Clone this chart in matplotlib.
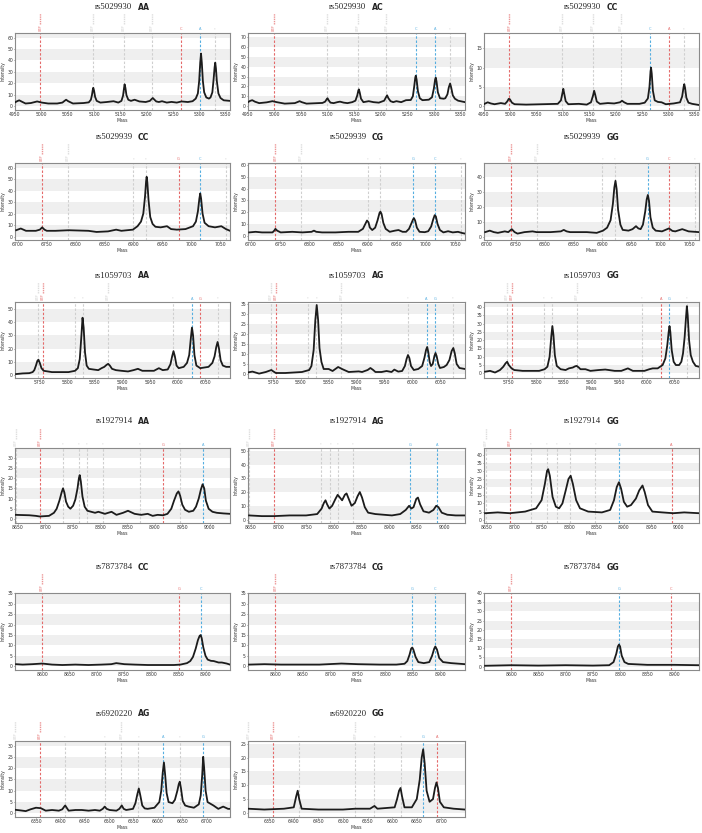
import matplotlib
matplotlib.use("Agg")
import matplotlib.pyplot as plt

W, H = 702, 833

# ---------------- data ----------------
rs_ids = ["rs5029930", "rs5029930", "rs5029930",
          "rs5029939", "rs5029939", "rs5029939",
          "rs1059703", "rs1059703", "rs1059703",
          "rs1927914", "rs1927914", "rs1927914",
          "rs7873784", "rs7873784", "rs7873784",
          "rs6920220", "rs6920220"]
genotypes = ["AA", "AC", "CC", "CC", "CG", "GG", "AA", "AG", "GG",
             "AA", "AG", "GG", "CC", "CG", "GG", "AG", "GG"]

spec1 = [(4950,3.2),(4954,4.2),(4958,5.0),(4963,3.8),(4970,2.2),(4980,2.6),(4992,4.0),(5001,3.0),(5013,2.2),(5030,2.2),(5040,3.0),(5044,4.5),(5047,5.5),(5051,4.2),(5060,2.2),(5080,2.6),(5090,3.2),(5094,5.5),(5096,9.5),(5097.5,14.0),(5098.5,16.0),(5100,13.5),(5102,8),(5105,4.5),(5112,3.0),(5124,3.5),(5137,4.2),(5146,3.0),(5152,4.5),(5155,9),(5157,16),(5158,19),(5159.5,16),(5161.5,9.5),(5165,5.5),(5170,4.5),(5177,5.5),(5186,4.0),(5198,3.5),(5206,4.5),(5209.5,6.2),(5211.5,7.0),(5214,5.8),(5218,4.0),(5223,3.5),(5229,4.2),(5238,3.0),(5247,3.6),(5257,3.0),(5266,4.0),(5278,3.5),(5287,4.2),(5293,6.5),(5297,11),(5299.5,22),(5301.5,38),(5303,46),(5304.5,38),(5306.5,22),(5309,12),(5313,7.5),(5318,6.5),(5321,7.5),(5324.5,12),(5327,24),(5328.8,34),(5330,38),(5331.3,33),(5333,22),(5336,11),(5340,7),(5346,5),(5358,4.5)]
spec2 = [(4950,4.0),(4954,5.3),(4958,6.0),(4963,4.5),(4971,3.0),(4985,3.8),(4996,5.0),(5004,4.0),(5019,2.5),(5038,3.0),(5044,4.3),(5047,5.0),(5051,4.0),(5060,2.5),(5090,3.2),(5095,4.5),(5098,7),(5099.5,8),(5101.5,6),(5105,3.5),(5111,3.0),(5118,4),(5123,4.5),(5130,3.5),(5137,3.0),(5146,4.0),(5152,5.5),(5155.5,11),(5157.5,16),(5158.5,17),(5160,14),(5162.5,7.5),(5167,4.0),(5177,5.0),(5186,4.0),(5196,3.5),(5206,5.5),(5209.5,9),(5211.5,11),(5214,8),(5218,5),(5223,4.0),(5229,5.0),(5238,4.0),(5247,6.0),(5256,6.2),(5260,10),(5262.5,20),(5264.5,29),(5265.5,31),(5267,27),(5269.5,15),(5273,8),(5278,6),(5290,6.5),(5296,9),(5299.5,18),(5301.8,27),(5303,29),(5304.5,25),(5307,14),(5311,8),(5318,7.5),(5321,8),(5325,12),(5327.5,19),(5330,23),(5332,19),(5335,11),(5339,7.5),(5345,5.5),(5358,4.0)]
spec3 = [(4951,0.6),(4957,1.0),(4963,0.7),(4970,0.5),(4982,0.8),(4990,0.6),(4994,1.2),(4997,1.9),(4999,1.8),(5003,0.9),(5008,0.5),(5030,0.4),(5060,0.5),(5090,0.6),(5096,1.5),(5099,3.5),(5100.5,4.5),(5102,3.4),(5105,1.3),(5110,0.5),(5130,0.6),(5145,0.4),(5153,1.0),(5157,2.8),(5159,4.0),(5161,3.0),(5164,1.2),(5170,0.6),(5185,0.8),(5197,0.7),(5208,1.0),(5212,1.4),(5216,1.0),(5222,0.6),(5245,0.6),(5255,0.9),(5261,2.0),(5264,5),(5266,9),(5267,10),(5268.3,8.5),(5270.5,4.0),(5274,1.5),(5280,1.1),(5287,1.0),(5295,0.5),(5310,0.7),(5322,1.0),(5326,2.5),(5328.8,5.0),(5330,5.7),(5331.5,4.8),(5334,2.2),(5338,0.9),(5345,0.6),(5358,0.3)]
spec4 = [(6697,5.5),(6705,7.0),(6714,5.0),(6731,5.0),(6738,6.0),(6742,8.0),(6746,6.0),(6750,5.0),(6765,5.0),(6788,5.5),(6822,5.0),(6836,4.0),(6856,4.5),(6870,6.0),(6879,5.0),(6899,6.0),(6907,9),(6913,13),(6917,20),(6920,35),(6921.8,48),(6922.8,52),(6924,47),(6926,32),(6929,17),(6933,11),(6938,8.5),(6947,8.0),(6958,9.0),(6965,6.5),(6975,6.0),(6990,6.5),(7003,9),(7008,13),(7011.5,22),(7014,33),(7015.5,37.5),(7017,33),(7019.5,20),(7023,12),(7030,9),(7041,8.0),(7052,9.0),(7060,6.5),(7067,5.0)]
spec5 = [(6697,3.0),(6708,3.5),(6719,3.0),(6737,3.0),(6740,4.5),(6742,6.0),(6745,4.5),(6751,3.0),(6771,3.5),(6788,3.0),(6804,3.5),(6808,4.5),(6812,3.5),(6822,3.0),(6845,3.0),(6867,3.5),(6884,3.5),(6892,6),(6896,10),(6899,13),(6901.5,11.5),(6904,7),(6908,5),(6913,7),(6917,13),(6920.5,19.5),(6922,20.5),(6924,18.5),(6927,11),(6931,6),(6938,3.5),(6947,4.5),(6953,5.0),(6960,3.5),(6966,3.5),(6971,6),(6975,10.5),(6978,14),(6979.5,15),(6981.5,13),(6984.5,7),(6989,3.5),(6998,3.2),(7004,4.0),(7009,8),(7012.5,14),(7015,17.5),(7017,16.5),(7020,10),(7024,5),(7030,3.0),(7038,4.0),(7046,3.0),(7055,3.5),(7062,2.5),(7067,2.0)]
spec6 = [(6697,3.0),(6705,4.0),(6712,3.0),(6719,2.5),(6731,3.5),(6737,3.0),(6743,5.0),(6748,3.0),(6753,2.0),(6765,3.0),(6779,3.5),(6786,3.0),(6810,3.0),(6828,3.5),(6833,4.5),(6838,3.5),(6844,3.0),(6873,3.0),(6890,2.5),(6901,4.0),(6908,6),(6914,11),(6918,22),(6920.5,33),(6922.5,37.5),(6924.5,32),(6927,18),(6931,8),(6935,4.5),(6945,4.0),(6952,5.0),(6958,7.0),(6962,5.5),(6966,5.0),(6970,8),(6974,17),(6976.5,25),(6978.5,28),(6980.5,24),(6983,13),(6987,6),(6992,4.0),(7003,3.5),(7015,5.5),(7021,3.8),(7026,3.5),(7038,5.0),(7049,3.5),(7067,3.0)]
spec7 = [(5707,0.5),(5719,1.0),(5731,1.2),(5737,2),(5740,3.5),(5743,7),(5745.5,10.5),(5747.5,11.5),(5750,9),(5753,5),(5757,3.0),(5772,2.0),(5802,2.0),(5814,3.0),(5819,5),(5822.5,12),(5825.5,30),(5827.5,43.5),(5829.5,36),(5832,17),(5835,7),(5839,4.5),(5847,4.0),(5856,3.5),(5862,5.0),(5867,6),(5871,7.5),(5874,8.3),(5877,7),(5881,4.5),(5888,3.5),(5898,3.0),(5910,2.5),(5920,3.5),(5928,4.5),(5936,3.0),(5957,3.0),(5966,5.0),(5973,3.5),(5982,4),(5987,8),(5990,14),(5992.5,18),(5995,14),(5998,7),(6002,5),(6011,6),(6017,9),(6021,15),(6024,28),(6026,36),(6028,30),(6030.5,15),(6034,7),(6041,5.0),(6056,6.0),(6063,9),(6067,14),(6070,21),(6072.5,25),(6075,20),(6078,11),(6082,7),(6088,6),(6095,6)]
spec8 = [(5705,0.8),(5713,1.2),(5725,0.2),(5737,1.0),(5744,1.7),(5747,2.0),(5751,1.2),(5755,0.5),(5772,0.5),(5802,1.0),(5815,2.0),(5819,4),(5823,12),(5826,27),(5828.5,34.5),(5831,27),(5833.5,13),(5837,6),(5841,2.5),(5850,2.5),(5857,1.5),(5867,3.5),(5874,2.5),(5886,1.0),(5904,1.3),(5910,1.0),(5920,2.0),(5925,3.0),(5930,2.0),(5934,1.0),(5945,1.0),(5954,1.5),(5963,1.0),(5968,2.2),(5975,1.2),(5982,1.5),(5987,4),(5990,7.5),(5992.5,9.5),(5995,8),(5998,4),(6003,2.0),(6011,2.5),(6018,4),(6022,8),(6025,12),(6027,13.5),(6029,11),(6031.5,6),(6034,4.0),(6037,5),(6040,9),(6042,10.5),(6044,9),(6047,5),(6050,3.0),(6057,3.5),(6062,4.5),(6067,7),(6071,11.5),(6074,13),(6076.5,10.5),(6080,5),(6085,3.0),(6095,2.5)]
spec9 = [(5707,1.0),(5716,1.5),(5725,0.5),(5734,2.0),(5740,4.0),(5744,6),(5747,7.0),(5750,5),(5755,3.0),(5760,2.0),(5775,1.5),(5805,1.5),(5815,2.5),(5820,4),(5824,10),(5827,22),(5829,28.5),(5831,23),(5833.5,11),(5837,4.5),(5844,2.5),(5853,2.0),(5859,3.0),(5866,3.5),(5870,4.2),(5873,4.5),(5877,3.5),(5880,2.5),(5889,2.5),(5898,1.5),(5913,2.0),(5925,2.3),(5942,1.5),(5954,1.5),(5962,2.5),(5966,3.0),(5975,1.5),(5996,1.5),(6005,2.5),(6011,3.0),(6020,3.0),(6029,5),(6034,9),(6037.5,17),(6040,25),(6041.5,28.5),(6043,25),(6045.5,14),(6049,7),(6053,5),(6059,5),(6063,7),(6066,12),(6069,22),(6071.5,34),(6073,40.5),(6074.5,35),(6077,20),(6080,11),(6084,7),(6089,4.5),(6095,4)]
spec10 = [(8645,2.0),(8671,1.8),(8683,1.5),(8690,1.2),(8707,1.5),(8716,3),(8721,5),(8726,9),(8730,13),(8732.5,15),(8735,13),(8738,8.5),(8742,6),(8746,5.0),(8751,6.5),(8755,9.5),(8759,15),(8761.5,20),(8763,21.5),(8765,18.5),(8768,11),(8772,6),(8777,4.0),(8791,3.0),(8797,3.5),(8809,2.5),(8821,3.5),(8830,2.0),(8842,3.0),(8851,4.0),(8863,2.5),(8875,2.0),(8887,2.5),(8896,1.5),(8905,2.0),(8915,1.8),(8923,2.5),(8930,5),(8935,9),(8940,12.5),(8943,13.5),(8946,11.5),(8950,7),(8955,4.5),(8962,3.5),(8970,4),(8975,6),(8980,10),(8984,14.5),(8987,17),(8990,15),(8993,9),(8998,5),(9005,3.5),(9013,3.0),(9025,2.7),(9037,2.5)]
spec11 = [(8647,3),(8670,2.5),(8692,2.5),(8720,3),(8750,3),(8770,4),(8778,8),(8782,12),(8785,14),(8788,11),(8792,8),(8797,10),(8803,15),(8807,18),(8811,16),(8815,14),(8820,18),(8823,19),(8827,15),(8832,10),(8838,12),(8843,17),(8847,20),(8851,16),(8856,9),(8862,5),(8875,4),(8890,3.5),(8905,3),(8920,4),(8930,7),(8936,10),(8940,8),(8944,9),(8949,15),(8952,16),(8956,11),(8962,6),(8972,5),(8980,7),(8985,10),(8989,9),(8995,5),(9005,3.5),(9020,3),(9037,3)]
spec12 = [(8647,4),(8670,4.5),(8692,4),(8720,5),(8740,7),(8750,12),(8756,22),(8760,30),(8762,31),(8765,27),(8770,14),(8776,8),(8782,7),(8788,10),(8794,18),(8799,25),(8803,27),(8807,22),(8813,12),(8820,7),(8835,5),(8860,4.5),(8875,6),(8882,12),(8887,20),(8891,23),(8895,19),(8900,11),(8906,8),(8913,9),(8922,13),(8928,18),(8934,21),(8938,17),(8944,9),(8952,5),(8970,4.5),(8990,4),(9010,4.5),(9037,4)]
spec13 = [(8552,1.0),(8564,0.8),(8582,1.0),(8600,1.3),(8618,0.8),(8637,0.6),(8661,0.8),(8685,0.6),(8709,0.8),(8727,1.0),(8736,1.5),(8751,1.0),(8770,0.8),(8794,0.6),(8818,0.6),(8842,0.6),(8854,0.8),(8866,1.5),(8872,2.5),(8877,4.5),(8882,8.5),(8886,12.5),(8889,14.5),(8891,15),(8893,13.5),(8896,9),(8900,5),(8904,3.2),(8910,2.6),(8915,2.5),(8924,1.8),(8930,1.8),(8939,1.3),(8945,0.8)]
spec14 = [(8552,0.8),(8580,1.0),(8610,0.8),(8640,0.8),(8680,0.8),(8720,1.3),(8750,1.0),(8790,0.8),(8820,0.8),(8835,1.2),(8840,2.5),(8844,5.5),(8847,8.5),(8849,9),(8851,8),(8855,4.5),(8860,2.0),(8870,1.5),(8880,2.0),(8885,5),(8889,8.5),(8891,9.5),(8894,8),(8898,4),(8905,2),(8920,1.5),(8945,1.0)]
spec15 = [(8552,0.5),(8600,0.8),(8650,0.6),(8700,0.8),(8750,0.6),(8780,0.8),(8788,2.5),(8793,7),(8796,11),(8798,12),(8800,11),(8803,6),(8808,2.5),(8815,1.5),(8850,1.0),(8900,1.0),(8945,0.8)]
spec16 = [(6307,1.6),(6319,1.3),(6329,1.0),(6339,1.8),(6350,2.5),(6360,2.3),(6370,1.2),(6383,1.5),(6397,1.2),(6404,1.8),(6408,3.0),(6410,3.5),(6413,2.5),(6417,1.2),(6431,1.5),(6444,1.5),(6458,1.2),(6471,1.5),(6481,1.2),(6487,2.0),(6491,3.0),(6495,2.0),(6501,1.5),(6515,1.2),(6521,2.0),(6526,3.5),(6530,2.0),(6535,1.5),(6549,2.0),(6554,4.5),(6558,8.5),(6561,11),(6564,8),(6568,3.5),(6573,2.2),(6579,2.0),(6593,2.5),(6603,5.0),(6607,10),(6610,18),(6612.5,22.5),(6615,17),(6618,9),(6622,5.0),(6630,4.5),(6635,6.0),(6640,10),(6643,13),(6645,14),(6647.5,11),(6651,5.5),(6656,3.5),(6663,3.0),(6674,2.5),(6684,4),(6688,8),(6691,17),(6693,25),(6695,20),(6698,10),(6702,5.0),(6714,3.5),(6724,2.0),(6734,3.0),(6744,2.0),(6748,2.0)]
spec17 = [(6307,1.5),(6340,1.2),(6380,1.5),(6400,2),(6405,6),(6408,8),(6411,5),(6416,1.5),(6450,1.2),(6500,1.2),(6525,1.5),(6555,1.5),(6564,2.5),(6570,1.5),(6605,2),(6610,5),(6614,8),(6617,9),(6620,6),(6625,2),(6640,2),(6650,5),(6656,12),(6660,20),(6663,23),(6666,18),(6670,8),(6676,4),(6683,5),(6687,9),(6690,11),(6693,9),(6697,4),(6705,2),(6725,1.5),(6748,1.2)]

# marker peaks: mass, colour code (r = red, b = blue, g = grey), label
mk1 = [(4998,"r","UEP"),(5098,"g","UEP"),(5157,"g","UEP"),(5210,"g","UEP"),(5265,"r","C"),(5302,"b","A"),(5330,"g","")]
mk2 = [(4998,"r","UEP"),(5098,"g","UEP"),(5157,"g","UEP"),(5210,"g","UEP"),(5265,"b","C"),(5302,"b","A"),(5330,"g","")]
mk3 = [(4998,"r","UEP"),(5098,"g","UEP"),(5157,"g","UEP"),(5210,"g","UEP"),(5265,"b","C"),(5302,"r","A"),(5330,"g","")]
mk4 = [(6742,"r","UEP"),(6786,"g","UEP"),(6900,"g",""),(6921,"g",""),(6978,"r","G"),(7015,"b","C"),(7060,"g","")]
mk5 = [(6742,"r","UEP"),(6786,"g","UEP"),(6900,"g",""),(6921,"g",""),(6978,"b","G"),(7015,"b","C"),(7060,"g","")]
mk6 = [(6742,"r","UEP"),(6786,"g","UEP"),(6900,"g",""),(6921,"g",""),(6978,"b","G"),(7015,"r","C"),(7060,"g","")]
mk7 = [(5746,"g","UEP"),(5755,"r","UEP"),(5813,"g",""),(5828,"g",""),(5873,"g","UEP"),(5992,"g",""),(6026,"b","A"),(6041,"r","G"),(6073,"g","")]
mk8 = [(5746,"g","UEP"),(5755,"r","UEP"),(5813,"g",""),(5828,"g",""),(5873,"g","UEP"),(5992,"g",""),(6026,"b","A"),(6041,"b","G"),(6073,"g","")]
mk9 = [(5746,"g","UEP"),(5755,"r","UEP"),(5813,"g",""),(5828,"g",""),(5873,"g","UEP"),(5992,"g",""),(6026,"r","A"),(6041,"b","G"),(6073,"g","")]
mk10 = [(8646,"g","UEP"),(8690,"r","UEP"),(8733,"g",""),(8761,"g",""),(8776,"g",""),(8806,"g",""),(8872,"g",""),(8915,"r","G"),(8945,"g",""),(8988,"b","A")]
mk11 = [(8647,"g","UEP"),(8692,"r","UEP"),(8776,"g",""),(8794,"g",""),(8807,"g",""),(8834,"g",""),(8938,"b","G"),(8987,"b","A")]
mk12 = [(8649,"g","UEP"),(8692,"r","UEP"),(8730,"g",""),(8760,"g",""),(8778,"g",""),(8801,"g",""),(8848,"g",""),(8891,"b","G"),(8987,"r","A")]
mk13 = [(8600,"r","UEP"),(8851,"r","G"),(8891,"b","C")]
mk14 = [(8600,"r","UEP"),(8849,"b","G"),(8891,"b","C")]
mk15 = [(8600,"r","UEP"),(8798,"b","G"),(8894,"r","C")]
mk16 = [(6308,"g","UEP"),(6358,"r","UEP"),(6410,"g",""),(6491,"g",""),(6525,"g","UEP"),(6560,"g",""),(6611,"b","A"),(6645,"g",""),(6692,"b","G")]
mk17 = [(6308,"g","UEP"),(6358,"r","UEP"),(6410,"g",""),(6525,"g","UEP"),(6564,"g",""),(6617,"g",""),(6663,"b","G"),(6692,"r","A")]

specs = [spec1, spec2, spec3, spec4, spec5, spec6, spec7, spec8, spec9,
         spec10, spec11, spec12, spec13, spec14, spec15, spec16, spec17]
markers = [mk1, mk2, mk3, mk4, mk5, mk6, mk7, mk8, mk9,
           mk10, mk11, mk12, mk13, mk14, mk15, mk16, mk17]

# ---------------- layout / style ----------------
col_left = [15, 248, 484]
col_w = [215, 217, 215]
row_tb = [(33, 110), (163, 240), (302, 378), (448, 523), (593, 670), (741, 817)]
title_y = [7, 137, 276, 421, 567, 714]

row_xlim = [(4950, 5358), (6695, 7067), (5705, 6095), (8645, 9037), (8550, 8945), (6307, 6748)]
row_xticks = [range(4950, 5351, 50), range(6700, 7051, 50), range(5750, 6051, 50),
              range(8650, 9001, 50), range(8600, 8901, 50), range(6350, 6701, 50)]
panel_ylim = [(-3.5, 64), (-4, 74.5), (-1, 19), (-3, 64), (-3.4, 61.5), (-2.3, 49.5),
              (-2.5, 55.5), (-2, 36), (-2.8, 43), (-2, 34.8), (-2.5, 52), (-2, 44),
              (-1.8, 35.2), (-1.8, 35.2), (-1.8, 40), (-1.6, 32), (-1.5, 26)]
panel_ystep = [10, 10, 5, 10, 10, 10, 10, 5, 5, 5, 10, 5, 5, 5, 5, 5, 5]

cmap = {"r": "#e46a6a", "b": "#55aee0", "g": "#cfcfcf"}
FS = 3.3

fig = plt.figure(figsize=(W / 100, H / 100), dpi=100)
fig.patch.set_facecolor("white")

for i in range(17):
    row, col = divmod(i, 3)
    t, b = row_tb[row]
    l = col_left[col]
    w = col_w[col]
    ax = fig.add_axes([l / W, 1 - b / H, w / W, (b - t) / H])
    y0, y1 = panel_ylim[i]
    st = panel_ystep[i]
    # alternating bands
    k = 0
    while k < y1:
        ax.axhspan(k, k + st, color="#efefef", lw=0, zorder=0)
        k += 2 * st
    # marker lines
    hpx = b - t
    xt = ax.get_xaxis_transform()
    for m, c, lab in markers[i]:
        col_c = cmap[c]
        ax.axvline(m, color=col_c, lw=0.8, ls=(0, (2.2, 1.6)), zorder=1)
        if lab == "UEP":
            ax.text(m, 1 + 2 / hpx, lab, transform=xt, rotation=90,
                    fontsize=2.4, color=col_c, ha="center", va="bottom", clip_on=False)
            ax.plot([m, m], [1 + 9 / hpx, 1 + 20 / hpx], transform=xt,
                    color=col_c, lw=1.0, ls=(0, (1, 0.6)), alpha=0.7, clip_on=False)
        else:
            ax.text(m, 1 + 1.5 / hpx, lab if lab else "*", transform=xt,
                    fontsize=2.6, color=col_c, ha="center", va="bottom", clip_on=False)
    xs = [p[0] for p in specs[i]]
    ys = [p[1] for p in specs[i]]
    ax.plot(xs, ys, color="#1c1c1c", lw=1.3, solid_joinstyle="round", zorder=3)
    ax.set_xlim(*row_xlim[row])
    ax.set_ylim(y0, y1)
    ax.set_xticks(list(row_xticks[row]))
    yt = []
    v = 0
    while v <= y1:
        yt.append(v)
        v += st
    ax.set_yticks(yt)
    ax.tick_params(labelsize=FS, length=0.8, width=0.4, pad=0.6, colors="#333333")
    ax.set_xlabel("Mass", fontsize=FS, labelpad=0.5, color="#333333")
    ax.set_ylabel("Intensity", fontsize=FS, color="#333333")
    ax.yaxis.set_label_coords(-9.5 / w, 0.5)
    for sp in ax.spines.values():
        sp.set_color("#8a8a8a")
        sp.set_linewidth(0.8)
    # title
    cx = l + w / 2
    fig.text((cx + 10) / W, 1 - title_y[row] / H, rs_ids[i], ha="right", va="center",
             fontsize=6.3, family="Liberation Serif", color="#222222")
    fig.text((cx + 15) / W, 1 - title_y[row] / H, genotypes[i], ha="left", va="center",
             fontsize=5.6, family="DejaVu Sans", weight="bold", color="#222222")

fig.savefig("out.png", dpi=100)
